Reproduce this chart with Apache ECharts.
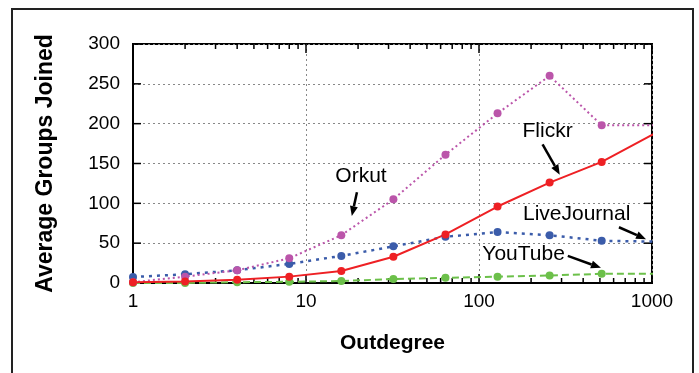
<!DOCTYPE html>
<html>
<head>
<meta charset="utf-8">
<script src="https://cdn.jsdelivr.net/npm/echarts@6/dist/echarts.min.js"></script>
<style>
  html, body { margin: 0; padding: 0; background: #fff; }
  #chart { width: 699px; height: 373px; }
</style>
</head>
<body>
<div id="chart"></div>
<script>
  // outdegree buckets (powers of two), last one lies just past the axis end
  var outdegree = [1, 2, 4, 8, 16, 32, 64, 128, 256, 512, 1024];
  var orkut = [1, 8, 16, 31, 60, 105, 161, 213, 260, 198, 198];
  var flickr = [1, 2, 4, 8, 15, 33, 61, 96, 126, 152, 187];
  var liveJournal = [7.5, 11, 16, 24, 34, 46, 58, 64, 60, 53, 52];
  var youTube = [0, 0, 1, 1.5, 2.5, 5, 6.5, 8, 9.5, 11.5, 11.5];
  var xTicks = [1, 10, 100, 1000];
  var xMinorTicks = [2, 3, 4, 5, 6, 7, 8, 9, 20, 30, 40, 50, 60, 70, 80, 90, 200, 300, 400, 500, 600, 700, 800, 900];
  var yTicks = [0, 50, 100, 150, 200, 250, 300];

  // labels with arrows: text position, arrow start, arrow end (data space)
  var notes = [
    {text: 'Orkut', at: [20.8, 134], from: [19.7, 114], to: [18.4, 84]},
    {text: 'Flickr', at: [249, 191], from: [233, 174], to: [293, 136]},
    {text: 'LiveJournal', at: [367, 86], from: [644, 70], to: [924, 55]},
    {text: 'YouTube', at: [181, 36], from: [326, 34], to: [507, 19]}
  ];

  function pairs(ys) {
    return outdegree.map(function (x, i) { return [x, ys[i]]; });
  }

  var font = 'Liberation Sans, Arial, sans-serif';
  var chart = echarts.init(document.getElementById('chart'));

  function line(name, ys, color, type, width) {
    return {
      name: name, type: 'line', data: pairs(ys), clip: true,
      symbol: 'circle', symbolSize: 8, showSymbol: true,
      itemStyle: {color: color},
      lineStyle: {color: color, type: type, width: width},
      animation: false
    };
  }

  chart.setOption({
    animation: false,
    grid: {left: 133, right: 47, top: 44, bottom: 90, show: true, borderColor: '#000', borderWidth: 2},
    xAxis: {
      type: 'log', logBase: 10, min: 1, max: 1000,
      axisLine: {show: true, onZero: false, lineStyle: {color: '#000', width: 2}},
      axisTick: {show: false},
      axisLabel: {
        color: '#000', fontSize: 19, fontFamily: font, margin: 9,
        formatter: function (v) { return String(v); }
      },
      splitLine: {show: true, lineStyle: {color: '#888', type: [2, 3], width: 1}},
      name: 'Outdegree', nameLocation: 'middle', nameGap: 50,
      nameTextStyle: {color: '#000', fontSize: 21, fontWeight: 'bold', fontFamily: font}
    },
    yAxis: {
      type: 'value', min: 0, max: 300, interval: 50,
      axisLine: {show: true, onZero: false, lineStyle: {color: '#000', width: 2}},
      axisTick: {show: false},
      axisLabel: {color: '#000', fontSize: 19, fontFamily: font, margin: 13},
      splitLine: {show: true, lineStyle: {color: '#888', type: [2, 3], width: 1}},
      name: 'Average Groups Joined', nameLocation: 'middle', nameGap: 76, nameRotate: 90,
      nameTextStyle: {color: '#000', fontSize: 23, fontWeight: 'bold', fontFamily: font}
    },
    series: [
      line('YouTube', youTube, '#6cc04a', [7, 4], 2),
      line('LiveJournal', liveJournal, '#3b5caa', [3, 5], 2.5),
      line('Orkut', orkut, '#bb55aa', [2, 3], 2),
      line('Flickr', flickr, '#ee2024', 'solid', 2)
    ]
  });

  var graphics = [{
    type: 'rect', shape: {x: 12, y: 9, width: 681, height: 380},
    style: {fill: 'none', stroke: '#222', lineWidth: 2}, silent: true
  }];

  // inward ticks on all four sides of the plot box
  var x0 = chart.convertToPixel({xAxisIndex: 0}, 1);
  var x1 = chart.convertToPixel({xAxisIndex: 0}, 1000);
  var yb = chart.convertToPixel({yAxisIndex: 0}, 0);
  var yt = chart.convertToPixel({yAxisIndex: 0}, 300);
  function tick(xa, ya, xb, yb2) {
    graphics.push({type: 'line', shape: {x1: xa, y1: ya, x2: xb, y2: yb2},
      style: {stroke: '#000', lineWidth: 1.5}, silent: true});
  }
  xTicks.forEach(function (v) {
    var px = chart.convertToPixel({xAxisIndex: 0}, v);
    tick(px, yb, px, yb - 9);
    tick(px, yt, px, yt + 9);
  });
  xMinorTicks.forEach(function (v) {
    var px = chart.convertToPixel({xAxisIndex: 0}, v);
    tick(px, yb, px, yb - 5);
    tick(px, yt, px, yt + 5);
  });
  yTicks.forEach(function (v) {
    var py = chart.convertToPixel({yAxisIndex: 0}, v);
    tick(x0, py, x0 + 8, py);
    tick(x1, py, x1 - 8, py);
  });

  notes.forEach(function (n) {
    var p = chart.convertToPixel({gridIndex: 0}, n.at);
    var a = chart.convertToPixel({gridIndex: 0}, n.from);
    var b = chart.convertToPixel({gridIndex: 0}, n.to);
    var dx = b[0] - a[0], dy = b[1] - a[1];
    var len = Math.sqrt(dx * dx + dy * dy);
    var ux = dx / len, uy = dy / len;
    var head = 10, half = 4;
    var bx = b[0] - ux * head, by = b[1] - uy * head;
    graphics.push({
      type: 'text', x: p[0], y: p[1],
      style: {text: n.text, fill: '#000', font: '21px ' + font, align: 'center', verticalAlign: 'middle'}
    });
    graphics.push({
      type: 'line', shape: {x1: a[0], y1: a[1], x2: bx, y2: by},
      style: {stroke: '#000', lineWidth: 2.5}
    });
    graphics.push({
      type: 'polygon',
      shape: {points: [[b[0], b[1]], [bx - uy * half, by + ux * half], [bx + uy * half, by - ux * half]]},
      style: {fill: '#000'}
    });
  });
  chart.setOption({graphic: graphics});
</script>
</body>
</html>
